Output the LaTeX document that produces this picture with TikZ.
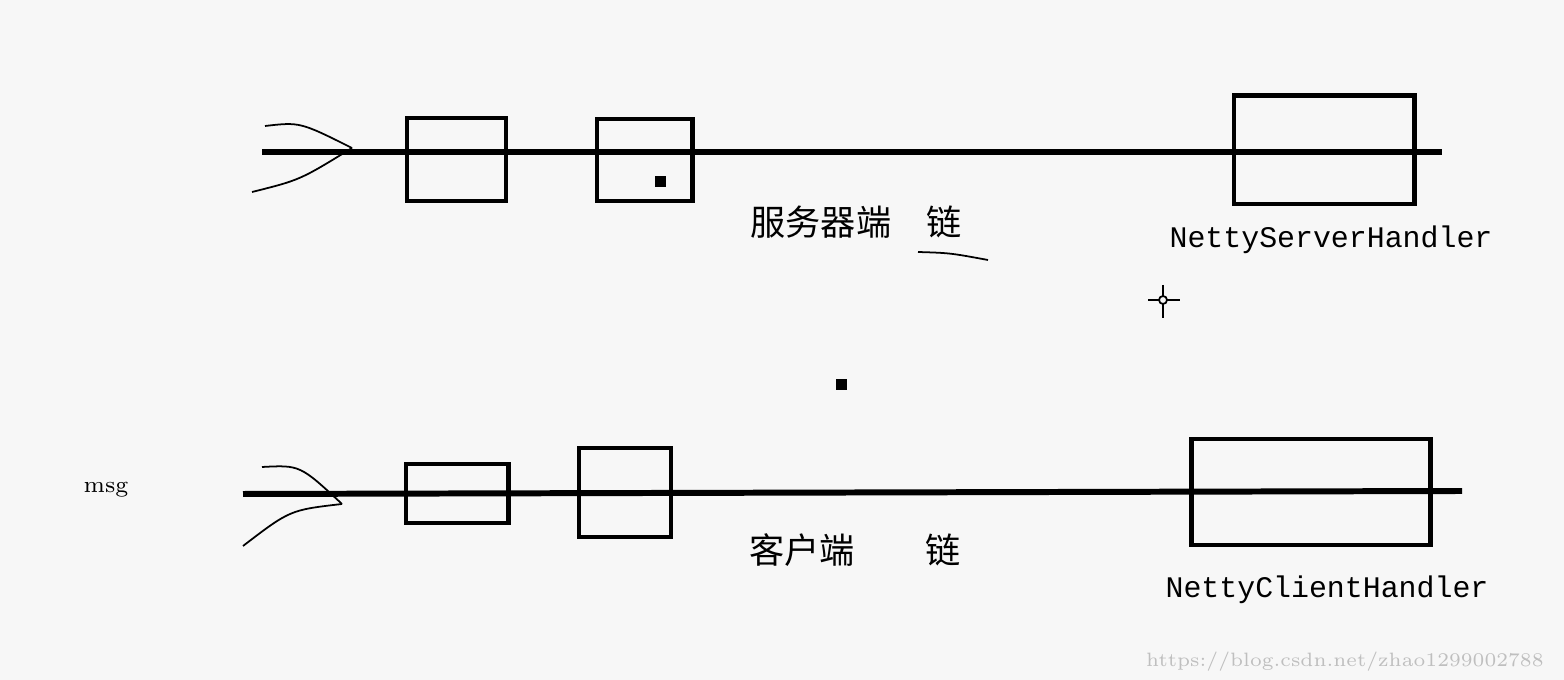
\documentclass[tikz,border=0pt]{standalone}
\usepackage{fontspec}
\setmonofont{Liberation Mono}
\newfontfamily\cjk{Noto Sans CJK SC}
\usetikzlibrary{positioning}
\definecolor{bg}{HTML}{F7F7F7}
\begin{document}
\begin{tikzpicture}[x=0.01cm, y=-0.01cm,
    wire/.style = {line width=1.7pt},
    hbox/.style = {draw, line width=1.4pt, inner sep=0pt, fill=none},
    label/.style = {font=\ttfamily\fontsize{8.5}{10}\selectfont},
    cn/.style = {font=\cjk\fontsize{10}{12}\selectfont},
    thin/.style = {line width=0.5pt}
                    ]
\fill[bg] (0,0) rectangle (1564,680);
\useasboundingbox (0,0) rectangle (1564,680);

% server chain
\coordinate (s0) at (262,152);
\coordinate (s1) at (1442,152);
\draw[wire] (s0) -- (s1);
\node (sb1) [hbox, minimum width=0.99cm, minimum height=0.83cm] at (456.5,159.5) {};
\node (sb2) [hbox, minimum width=0.95cm, minimum height=0.82cm] at (644.5,160) {};
\node (sb3) [hbox, minimum width=1.80cm, minimum height=1.08cm] at (1324,150) {};
\fill (655,176) rectangle (666,187);
\coordinate (sa1) at (265,126);
\coordinate (sa2) at (252,192);
\coordinate (sa) at (352,148);
\draw[thin] (sa1) .. controls (300,122) .. (sa);
\draw[thin] (sa2) .. controls (300,180) .. (sa);
\node (stext) [cn] at (856,222) {服务器端\quad 链};
\draw[thin] (918,252) .. controls (950,253) .. (988,260);
\node (sname) [label] at (1331,240) {NettyServerHandler};

% marks
\draw[thin] (1148,300) -- (1180,300) (1163,285) -- (1163,318);
\draw[thin, fill=bg] (1163,300) circle (4);
\fill (836,379) rectangle (847,390);

% client chain
\node (msg) [font=\fontsize{6.5}{8}\selectfont] at (106,490) {msg};
\coordinate (c0) at (243,494);
\coordinate (c1) at (1462,491);
\draw[wire] (c0) -- (c1);
\node (cb1) [hbox, minimum width=1.02cm, minimum height=0.59cm] at (457,493.5) {};
\node (cb2) [hbox, minimum width=0.92cm, minimum height=0.89cm] at (625,492.5) {};
\node (cb3) [hbox, minimum width=2.38cm, minimum height=1.06cm] at (1311,492) {};
\coordinate (ca1) at (262,467);
\coordinate (ca2) at (243,546);
\coordinate (ca) at (342,504);
\draw[thin] (ca1) .. controls (300,465) .. (ca);
\draw[thin] (ca2) .. controls (290,510) .. (ca);
\node (ctext) [cn] at (855,550) {客户端\qquad 链};
\node (cname) [label] at (1327,590) {NettyClientHandler};

\node (url) [text=gray!50, font=\fontsize{5.5}{6}\selectfont, anchor=east] at (1556,662) {https://blog.csdn.net/zhao1299002788};
\end{tikzpicture}
\end{document}
